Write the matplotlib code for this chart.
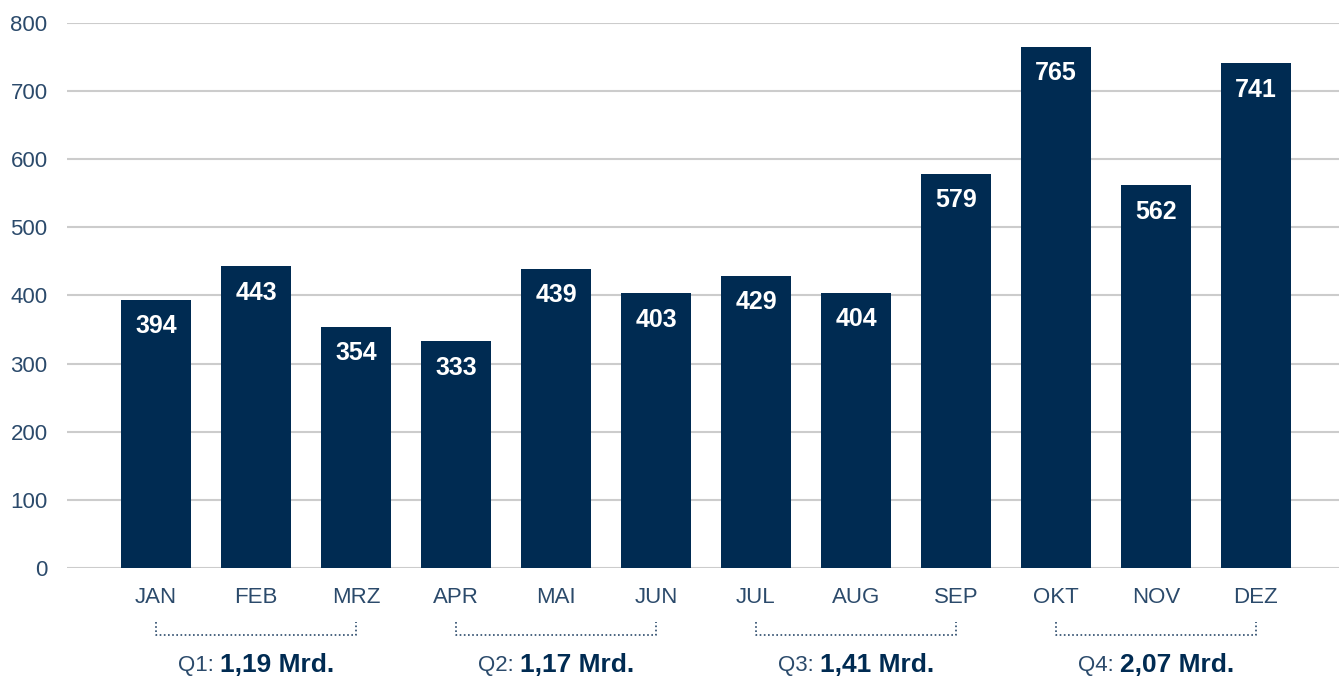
import matplotlib.pyplot as plt
import matplotlib.transforms as mtransforms

plt.rcParams['font.family'] = ['Liberation Sans', 'DejaVu Sans']

months = ['JAN', 'FEB', 'MRZ', 'APR', 'MAI', 'JUN', 'JUL', 'AUG', 'SEP', 'OKT', 'NOV', 'DEZ']
values = [394, 443, 354, 333, 439, 403, 429, 404, 579, 765, 562, 741]
quarters = ['Q1:', 'Q2:', 'Q3:', 'Q4:']
quarter_totals = ['1,19 Mrd.', '1,17 Mrd.', '1,41 Mrd.', '2,07 Mrd.']

bar_col = '#002b52'
text_col = '#2b4a6b'

fig = plt.figure(figsize=(13.39, 6.8), dpi=100)
ax = fig.add_axes([0.05, 0.1647, 0.95, 0.8015])

x = list(range(len(months)))
bars = ax.bar(x, values, width=0.7, color=bar_col, zorder=3)

for xi, v in zip(x, values):
    ax.annotate(str(v), (xi, v), xytext=(0, -19), textcoords='offset points',
                ha='center', va='center', color='white', fontsize=18,
                fontweight='bold', zorder=4)

ax.set_ylim(0, 800)
ax.set_xlim(-0.89, 11.83)
ax.set_yticks(range(0, 801, 100))
ax.set_xticks(x)
ax.set_xticklabels(months)
ax.tick_params(axis='both', length=0, labelsize=16, colors=text_col)
ax.tick_params(axis='y', pad=14)
ax.tick_params(axis='x', pad=14)
ax.yaxis.grid(True, color='#cccccc', linewidth=1.5, zorder=0)
for s in ax.spines.values():
    s.set_visible(False)

# quarter brackets and totals below the axis
trans = mtransforms.blended_transform_factory(ax.transData, ax.transAxes)
y_line = -0.123
y_tick = -0.099
y_text = -0.178
fig.canvas.draw()
renderer = fig.canvas.get_renderer()
for qi in range(4):
    a, b = qi * 3, qi * 3 + 2
    ax.plot([a, a, b, b], [y_tick, y_line, y_line, y_tick], transform=trans,
            clip_on=False, color=text_col, linewidth=1.2, linestyle=(0, (1, 1.5)))
    mid = (a + b) / 2
    t1 = ax.text(mid, y_text, quarters[qi] + ' ', transform=trans, ha='left', va='center',
                 fontsize=16, color=text_col)
    t2 = ax.text(mid, y_text, quarter_totals[qi], transform=trans, ha='left', va='center',
                 fontsize=19, fontweight='bold', color=bar_col)
    w1 = t1.get_window_extent(renderer).width
    w2 = t2.get_window_extent(renderer).width
    offs = mtransforms.ScaledTranslation(-(w1 + w2) / 2 / fig.dpi, 0, fig.dpi_scale_trans)
    t1.set_transform(trans + offs)
    offs2 = mtransforms.ScaledTranslation((w1 - (w1 + w2) / 2) / fig.dpi, 0, fig.dpi_scale_trans)
    t2.set_transform(trans + offs2)

fig.savefig('out.png', dpi=100)
